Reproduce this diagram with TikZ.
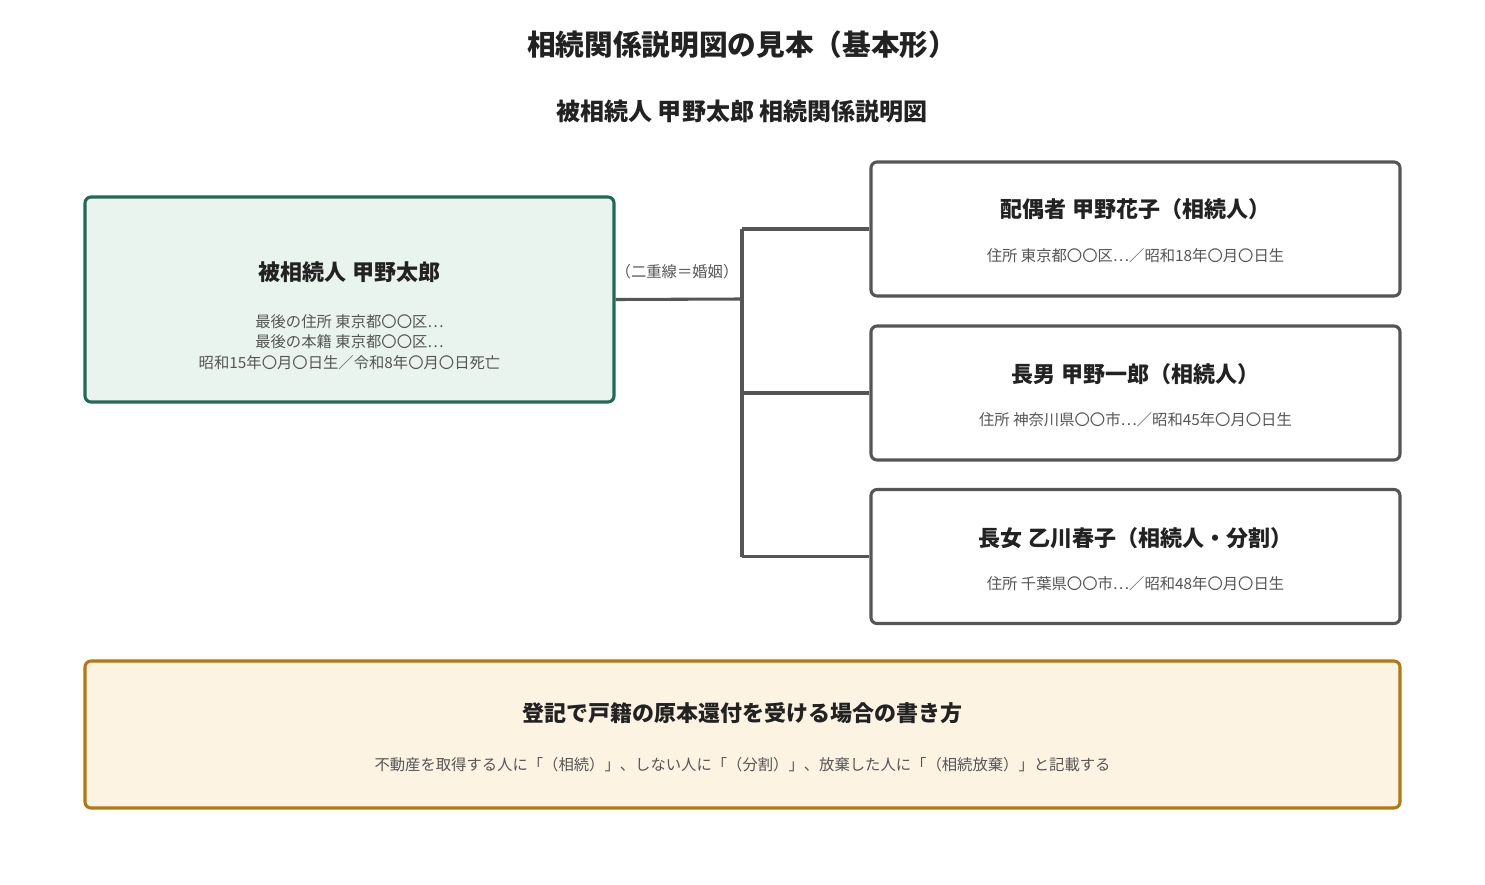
\documentclass[tikz,border=0pt]{standalone}
\usepackage{fontspec}
\setmainfont{Noto Sans CJK JP}
\usetikzlibrary{positioning}
\definecolor{inkcolor}{HTML}{222222}
\definecolor{subcolor}{HTML}{555555}
\definecolor{linecolor}{HTML}{555555}
\definecolor{greenfill}{HTML}{EAF4EF}
\definecolor{greendraw}{HTML}{1F6B57}
\definecolor{orangefill}{HTML}{FCF3E3}
\definecolor{orangedraw}{HTML}{B8760F}
\tikzset{
  box/.style={draw=linecolor,line width=2.3pt,fill=white,rounded corners=4.5pt,inner sep=0pt},
  heir/.style={box,minimum width=396.75pt,minimum height=100.5pt},
  head/.style={font=\fontsize{16.5}{18}\selectfont\bfseries,text=inkcolor},
  small/.style={font=\fontsize{11.5}{15.5}\selectfont,text=subcolor,align=center},
  link/.style={draw=linecolor,line width=2.3pt}
}
\begin{document}
\begin{tikzpicture}[x=0.75pt,y=-0.75pt]
\useasboundingbox (0,0) rectangle (1485,885);
% titles
\node (title) [font=\fontsize{21.5}{24}\selectfont\bfseries,text=inkcolor] at (742,45) {相続関係説明図の見本（基本形）};
\node (subtitle) [font=\fontsize{18}{20}\selectfont\bfseries,text=inkcolor] at (742,111) {被相続人 甲野太郎 相続関係説明図};
% deceased
\node (dec) [box,draw=greendraw,fill=greenfill,minimum width=396.75pt,minimum height=153.75pt] at (349.5,299.5) {};
\node (dechead) [head] at (349.5,272) {被相続人 甲野太郎};
\node (decinfo) [small] at (349.5,342) {最後の住所 東京都〇〇区…\\最後の本籍 東京都〇〇区…\\昭和15年〇月〇日生／令和8年〇月〇日死亡};
% heirs
\node (spouse) [heir] at (1135.5,229) {};
\node [head] at (1135.5,209) {配偶者 甲野花子（相続人）};
\node [small] at (1135.5,256) {住所 東京都〇〇区…／昭和18年〇月〇日生};
\node (son) [heir] at (1135.5,393) {};
\node [head] at (1135.5,374) {長男 甲野一郎（相続人）};
\node [small] at (1135.5,420) {住所 神奈川県〇〇市…／昭和45年〇月〇日生};
\node (daughter) [heir] at (1135.5,556.5) {};
\node [head] at (1135.5,538) {長女 乙川春子（相続人・分割）};
\node [small] at (1135.5,584) {住所 千葉県〇〇市…／昭和48年〇月〇日生};
% connectors
\coordinate (mid) at (742,299);
\coordinate (top) at (742,229);
\coordinate (bottom) at (742,556.5);
\node (marriage) [small] at (677,272) {（二重線＝婚姻）};
\draw [link] (dec.east) -- (mid);
\draw [link] (top) -- (bottom);
\draw [link] (top) -- (spouse.west);
\draw [link] (742,393) -- (son.west);
\draw [link] (bottom) -- (daughter.west);
% note
\node (note) [box,draw=orangedraw,fill=orangefill,minimum width=986.25pt,minimum height=110.25pt] at (742.5,734.5) {};
\node [head] at (742.5,713) {登記で戸籍の原本還付を受ける場合の書き方};
\node [small] at (742.5,765) {不動産を取得する人に「（相続）」、しない人に「（分割）」、放棄した人に「（相続放棄）」と記載する};
\end{tikzpicture}
\end{document}
